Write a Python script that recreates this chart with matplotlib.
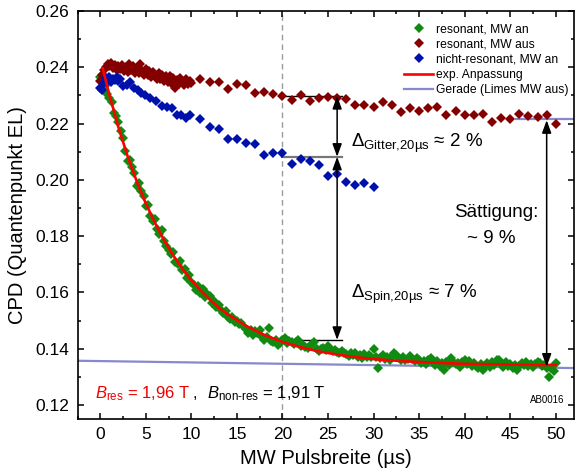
import numpy as np
import matplotlib
matplotlib.use("Agg")
import matplotlib.pyplot as plt
from matplotlib.ticker import MultipleLocator, FormatStrFormatter

plt.rcParams["font.family"] = ["Liberation Sans", "DejaVu Sans"]
plt.rcParams["mathtext.fontset"] = "custom"
plt.rcParams["mathtext.rm"] = "Liberation Sans"
plt.rcParams["mathtext.it"] = "Liberation Sans:italic"
plt.rcParams["mathtext.bf"] = "Liberation Sans:bold"

# resonant, MW an (sampled every 0.25 us from 0 to 50 us)
res_on_step = 0.25
res_on_y = [
    0.2366, 0.2371, 0.2335, 0.2304, 0.2292, 0.2278, 0.2238, 0.2226, 0.2205, 0.2172,
    0.2148, 0.2101, 0.2068, 0.2072, 0.2047, 0.2026, 0.1979, 0.1988, 0.1960, 0.1941,
    0.1908, 0.1912, 0.1871, 0.1852, 0.1861, 0.1826, 0.1809, 0.1822, 0.1781, 0.1766,
    0.1749, 0.1738, 0.1745, 0.1708, 0.1701, 0.1712, 0.1678, 0.1683, 0.1650, 0.1662,
    0.1638, 0.1627, 0.1609, 0.1621, 0.1598, 0.1613, 0.1582, 0.1594, 0.1588, 0.1561,
    0.1570, 0.1547, 0.1556, 0.1536, 0.1528, 0.1534, 0.1513, 0.1504, 0.1512, 0.1493,
    0.1497, 0.1486, 0.1491, 0.1476, 0.1470, 0.1457, 0.1466, 0.1450, 0.1461, 0.1454,
    0.1467, 0.1443, 0.1432, 0.1440, 0.1473, 0.1428, 0.1424, 0.1430, 0.1414, 0.1419,
    0.1431, 0.1437, 0.1420, 0.1428, 0.1425, 0.1416, 0.1422, 0.1431, 0.1411, 0.1413,
    0.1405, 0.1402, 0.1410, 0.1416, 0.1422, 0.1398, 0.1390, 0.1397, 0.1401, 0.1394,
    0.1408, 0.1399, 0.1392, 0.1396, 0.1387, 0.1384, 0.1391, 0.1386, 0.1381, 0.1374,
    0.1383, 0.1378, 0.1386, 0.1372, 0.1376, 0.1366, 0.1380, 0.1371, 0.1377, 0.1369,
    0.1398, 0.1372, 0.1331, 0.1368, 0.1378, 0.1364, 0.1369, 0.1361, 0.1373, 0.1384,
    0.1376, 0.1366, 0.1360, 0.1371, 0.1358, 0.1365, 0.1374, 0.1362, 0.1355, 0.1367,
    0.1360, 0.1350, 0.1356, 0.1346, 0.1359, 0.1366, 0.1352, 0.1343, 0.1357, 0.1338,
    0.1348, 0.1325, 0.1352, 0.1341, 0.1366, 0.1354, 0.1344, 0.1349, 0.1336, 0.1352,
    0.1360, 0.1346, 0.1355, 0.1340, 0.1350, 0.1337, 0.1331, 0.1344, 0.1325, 0.1339,
    0.1348, 0.1334, 0.1351, 0.1343, 0.1358, 0.1360, 0.1345, 0.1336, 0.1352, 0.1340,
    0.1347, 0.1333, 0.1341, 0.1325, 0.1338, 0.1349, 0.1342, 0.1353, 0.1339, 0.1346,
    0.1336, 0.1344, 0.1354, 0.1348, 0.1338, 0.1343, 0.1332, 0.1301, 0.1331, 0.1322, 0.1349,
]
res_on_x = np.arange(len(res_on_y)) * res_on_step

# resonant, MW aus: dense block 0-10 us (0.2 us steps), then 1 us steps
res_off_dense_y = [
    0.2353, 0.2372, 0.2392, 0.2402, 0.2412, 0.2403, 0.2414, 0.2398, 0.2408, 0.2392,
    0.2406, 0.2393, 0.2409, 0.2388, 0.2401, 0.2384, 0.2410, 0.2389, 0.2404, 0.2380,
    0.2396, 0.2378, 0.2412, 0.2387, 0.2374, 0.2394, 0.2371, 0.2386, 0.2365, 0.2383,
    0.2372, 0.2360, 0.2379, 0.2358, 0.2373, 0.2352, 0.2368, 0.2349, 0.2370, 0.2343,
    0.2361, 0.2328, 0.2356, 0.2340, 0.2362, 0.2347, 0.2336, 0.2357, 0.2342, 0.2352,
    0.2345,
]
res_off_dense_x = np.arange(len(res_off_dense_y)) * 0.2
res_off_sparse_x = np.arange(11, 51)
res_off_sparse_y = [
    0.2357, 0.2349, 0.2349, 0.2324, 0.2340, 0.2337, 0.2310, 0.2311, 0.2305, 0.2299,
    0.2283, 0.2302, 0.2281, 0.2291, 0.2296, 0.2290, 0.2286, 0.2265, 0.2265, 0.2260,
    0.2275, 0.2265, 0.2241, 0.2256, 0.2243, 0.2254, 0.2259, 0.2232, 0.2246, 0.2232,
    0.2232, 0.2235, 0.2207, 0.2220, 0.2216, 0.2234, 0.2227, 0.2223, 0.2229, 0.2198,
]
res_off_x = np.concatenate([res_off_dense_x, res_off_sparse_x])
res_off_y = np.concatenate([res_off_dense_y, res_off_sparse_y])

# nicht-resonant, MW an
nonres_x = [0.0, 0.2, 0.4, 0.6, 0.8, 1.0, 1.2, 1.4, 1.6, 1.8, 2.0, 2.2,
            2.5, 2.9, 3.3, 3.7, 4.1, 4.5, 4.9, 5.5, 6.1, 6.8, 7.3, 7.9, 8.4, 8.9, 9.4, 9.9,
            11, 12, 13, 14, 15, 16, 17, 18, 19, 20, 21, 22, 23, 24, 25, 26, 27, 28, 29, 30]
nonres_y = [0.2326, 0.2320, 0.2345, 0.2362, 0.2352, 0.2366, 0.2348, 0.2360, 0.2354, 0.2366, 0.2350, 0.2358,
            0.2334, 0.2338, 0.2348, 0.2328, 0.2320, 0.2308, 0.2301, 0.2292, 0.2280, 0.2264, 0.2260, 0.2254,
            0.2231, 0.2230, 0.2220, 0.2231,
            0.2216, 0.2189, 0.2181, 0.2145, 0.2146, 0.2130, 0.2126, 0.2088, 0.2097, 0.2097,
            0.2057, 0.2073, 0.2066, 0.2052, 0.2015, 0.2021, 0.1993, 0.1983, 0.1990, 0.1975]

# exponential fit curve
fit_x = [0.27, 1, 2, 3, 4, 5, 6, 7, 8, 9, 10, 11, 12, 13, 14, 16, 18, 20, 22, 24, 26, 28,
         30, 33, 36, 40, 44, 48, 50]
fit_y = [0.2396, 0.2302, 0.2186, 0.2084, 0.1995, 0.1916, 0.1847, 0.1786, 0.1732, 0.1685,
         0.1643, 0.1607, 0.1575, 0.1546, 0.1522, 0.1481, 0.1449, 0.1424, 0.1405, 0.1390,
         0.1379, 0.1370, 0.1363, 0.1356, 0.1351, 0.1346, 0.1344, 0.1342, 0.1342]

# straight lines: saturation limit (MW an) and MW-aus level
limit_x = [-2.5, 52]
limit_y = [0.1357, 0.1331]
off_level_x = [45.6, 52]
off_level_y = [0.2215, 0.2215]

# marker levels at 20 us and arrows
t_mark = 20
lvl_off = 0.2298
lvl_nonres = 0.2082
lvl_on = 0.1431
arrow_x = 26
sat_x = 49
sat_top = 0.2212
sat_bottom = 0.1336

GREEN = "#118a11"
MAROON = "#840000"
BLUE = "#0010aa"

fig = plt.figure(figsize=(5.75, 4.76), dpi=100)
ax = fig.add_axes([77.5 / 575, 57 / 476, 496.5 / 575, 408 / 476])

ax.axvline(t_mark, color="#9a9a9a", lw=1.0, ls=(0, (4, 3)), zorder=1)

ms = 4.6
ax.plot(res_on_x, res_on_y, "D", color=GREEN, ms=ms, mew=0, label="resonant, MW an", zorder=3)
ax.plot(res_off_x, res_off_y, "D", color=MAROON, ms=ms, mew=0, label="resonant, MW aus", zorder=3)
ax.plot(nonres_x, nonres_y, "D", color=BLUE, ms=ms, mew=0, label="nicht-resonant, MW an", zorder=3)
ax.plot(fit_x, fit_y, "-", color="#ff0000", lw=1.9, label="exp. Anpassung", zorder=4)
ax.plot(limit_x, limit_y, "-", color="#8888cc", lw=1.6, label="Gerade (Limes MW aus)", zorder=2)
ax.plot(off_level_x, off_level_y, "-", color="#8888cc", lw=1.6, zorder=2)

# reference levels at 20 us
ax.plot([t_mark, arrow_x + 0.5], [lvl_off, lvl_off], color="black", lw=1.0, zorder=2)
ax.plot([t_mark, arrow_x + 0.5], [lvl_nonres, lvl_nonres], color="#777777", lw=1.6, zorder=2)
ax.plot([t_mark, arrow_x + 0.5], [lvl_on, lvl_on], color="black", lw=1.0, zorder=2)

arrow_kw = dict(arrowstyle="<|-|>,head_length=0.55,head_width=0.2", color="black", lw=1.1,
                shrinkA=0, shrinkB=0, mutation_scale=14)
ax.annotate("", xy=(arrow_x, lvl_off), xytext=(arrow_x, lvl_nonres), arrowprops=arrow_kw, zorder=5)
ax.annotate("", xy=(arrow_x, lvl_nonres), xytext=(arrow_x, lvl_on), arrowprops=arrow_kw, zorder=5)
ax.annotate("", xy=(sat_x, sat_top), xytext=(sat_x, sat_bottom), arrowprops=arrow_kw, zorder=5)

ax.text(27.56, 0.2118, r"$\Delta_{\mathrm{Gitter{,}20µs}}$" + " ≈ 2 %", fontsize=13.5, va="baseline")
ax.text(27.56, 0.1579, r"$\Delta_{\mathrm{Spin{,}20µs}}$" + " ≈ 7 %", fontsize=13.5, va="baseline")
ax.text(43.45, 0.1868, "Sättigung:", fontsize=13.5, ha="center", va="baseline")
ax.text(42.9, 0.1777, "~ 9 %", fontsize=13.5, ha="center", va="baseline")

ax.text(-0.55, 0.1224, r"$B_{\mathrm{res}}$ = 1,96 T", fontsize=12, color="#ee0000", va="baseline")
ax.text(10.1, 0.1224, ",", fontsize=12, color="black", va="baseline")
ax.text(11.7, 0.1224, r"$B_{\mathrm{non\text{-}res}}$ = 1,91 T", fontsize=12, color="black", va="baseline")
ax.text(51.0, 0.1207, "AB0016", fontsize=7, ha="right", va="baseline")

ax.set_xlim(-2.5, 52)
ax.set_ylim(0.115, 0.26)
ax.xaxis.set_major_locator(MultipleLocator(5))
ax.xaxis.set_minor_locator(MultipleLocator(2.5))
ax.yaxis.set_major_locator(MultipleLocator(0.02))
ax.yaxis.set_minor_locator(MultipleLocator(0.01))
ax.yaxis.set_major_formatter(FormatStrFormatter("%.2f"))
ax.tick_params(which="both", direction="in", top=True, right=True, width=1.1)
ax.tick_params(which="major", length=4.5, labelsize=12.5, pad=6)
ax.tick_params(which="minor", length=2.5)
for sp in ax.spines.values():
    sp.set_linewidth(1.2)

ax.set_xlabel("MW Pulsbreite (µs)", fontsize=14.5, labelpad=5)
ax.set_ylabel("CPD (Quantenpunkt EL)", fontsize=14.5, labelpad=6)

leg = ax.legend(loc="upper left", bbox_to_anchor=(404 / 575, 1 - 23 / 476),
                bbox_transform=fig.transFigure, frameon=False, fontsize=8.7,
                handlelength=2.4, handletextpad=0.25, labelspacing=0.27,
                borderpad=0, borderaxespad=0, numpoints=1)

fig.savefig("out.png", dpi=100)
